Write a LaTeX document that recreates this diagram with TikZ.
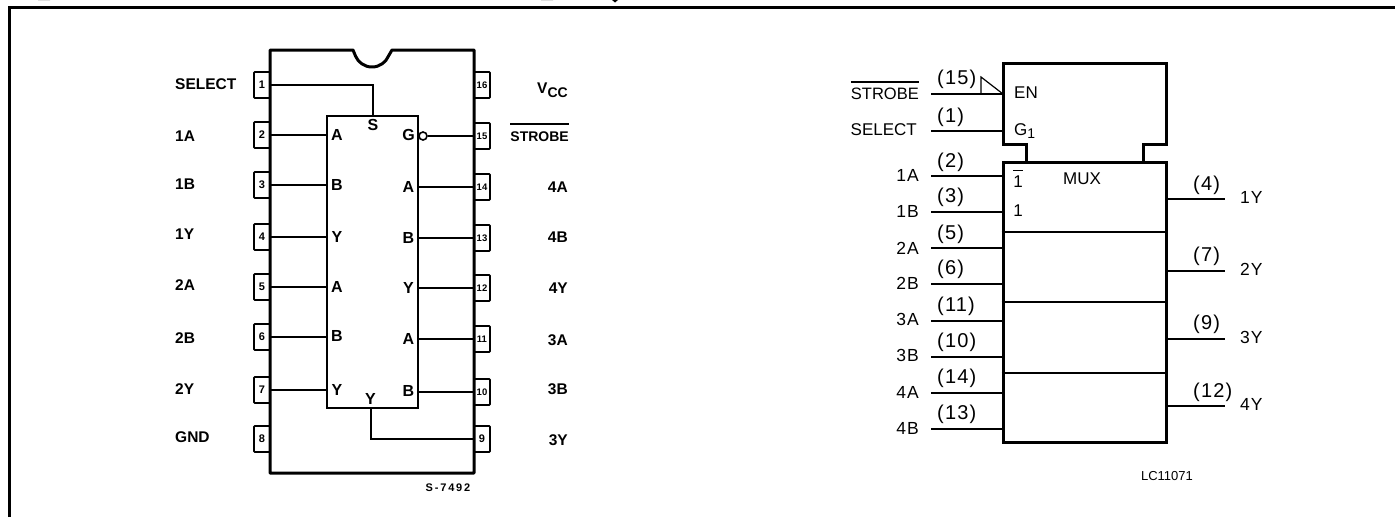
\documentclass[tikz,border=0pt]{standalone}
\usepackage{fontspec}
\setmainfont{Liberation Sans}
\newcommand{\fsz}[1]{\fontsize{#1}{#1}\selectfont}
\newcommand{\ovl}[2]{\setbox0=\hbox{#2}\rlap{\smash{\rule[#1]{\wd0}{1.3pt}}}\box0}
\newfontfamily\spaced[LetterSpace=6]{Liberation Sans}
\tikzset{
  x=1pt,y=-1pt,
  pinbox/.style={draw=black,line width=1.8pt,rounded corners=0.8pt,fill=white,minimum width=16pt,minimum height=26pt,inner sep=0pt,font=\bfseries\fsz{11}},
  wire/.style={line width=1.7pt,draw=black},
  thickline/.style={line width=3pt,draw=black,line join=miter},
  pinlabel/.style={inner sep=0pt,font=\bfseries\fsz{15.5}},
  ilabel/.style={inner sep=0pt,font=\bfseries\fsz{16}},
  sigtext/.style={inner sep=0pt,font=\fsz{17}},
  shorttext/.style={inner sep=0pt,font=\spaced\fsz{17.5}},
  numtext/.style={inner sep=0pt,anchor=west,font=\spaced\fsz{20}},
  note/.style={inner sep=0pt,font=\fsz{13}},
}
\begin{document}
\begin{tikzpicture}
\useasboundingbox (0,0) rectangle (1395,517);
% page frame (open to the right and below)
\coordinate (fa) at (9.5,517);
\coordinate (fb) at (9.5,7.5);
\coordinate (fc) at (1395,7.5);
\draw[thickline] (fa) -- (fb) -- (fc);
% clipped title descenders
\fill (38,0) arc[start angle=180,end angle=360,x radius=6,y radius=2.2] -- cycle;
\fill (541,0) arc[start angle=180,end angle=360,x radius=6,y radius=2.2] -- cycle;
\fill (612,0) -- (618,0) -- (615,2.5) -- cycle;

% ===== pin connections =====
\node[pinbox] (p1) at (262,85) {1};
\node[pinbox] (p2) at (262,135) {2};
\node[pinbox] (p3) at (262,185) {3};
\node[pinbox] (p4) at (262,237) {4};
\node[pinbox] (p5) at (262,287) {5};
\node[pinbox] (p6) at (262,337) {6};
\node[pinbox] (p7) at (262,390) {7};
\node[pinbox] (p8) at (262,439) {8};
\node[pinbox,font=\bfseries\fsz{9.5}] (p16) at (482,85) {16};
\node[pinbox,font=\bfseries\fsz{9.5}] (p15) at (482,136) {15};
\node[pinbox,font=\bfseries\fsz{9.5}] (p14) at (482,187) {14};
\node[pinbox,font=\bfseries\fsz{9.5}] (p13) at (482,238) {13};
\node[pinbox,font=\bfseries\fsz{9.5}] (p12) at (482,288) {12};
\node[pinbox,font=\bfseries\fsz{9.5}] (p11) at (482,339) {11};
\node[pinbox,font=\bfseries\fsz{9.5}] (p10) at (482,392) {10};
\node[pinbox] (p9) at (482,439) {9};
% package outline
\fill[white] (270,50) rectangle (474,473);
\draw[line width=3pt,line join=round] (270,50) -- (353,50) -- (355.5,56) .. controls (358,62) and (364,67) .. (372,67) .. controls (380,67) and (386,62) .. (388.5,56) -- (392,50) -- (474,50) -- (474,473) -- (270,473) -- cycle;
% inner block
\node[draw=black,line width=2pt,minimum width=91pt,minimum height=292pt,inner sep=0pt] (blk) at (372.5,262) {};
\coordinate (jsel) at (373,85);
\coordinate (jy) at (371,439);
\draw[wire] (270,85) -- (jsel) -- (jsel |- blk.north);
\draw[wire] (jy |- blk.south) -- (jy) -- (474,439);
\foreach \n in {2,3,4,5,6,7}{\draw[wire] (270,0 |- p\n) -- (blk.west |- p\n);}
\foreach \n in {14,13,12,11,10}{\draw[wire] (blk.east |- p\n) -- (474,0 |- p\n);}
\node[draw=black,fill=white,line width=1.6pt,circle,minimum size=8pt,inner sep=0pt] (bub) at (423,136) {};
\draw[wire] (bub.east) -- (474,0 |- bub);
% labels inside block
\node[ilabel] (ls) at (373,125) {S};
\node[ilabel] (ly) at (370.5,399) {Y};
\foreach \t/\y [count=\i] in {A/135,B/185,Y/237,A/287,B/336,Y/390}{\node[ilabel] (il\i) at (337,\y) {\t};}
\foreach \t/\y [count=\i] in {G/135,A/187,B/238,Y/288,A/339,B/391}{\node[ilabel] (ir\i) at (408.5,\y) {\t};}
% outer labels
\foreach \t/\y [count=\i] in {SELECT/84,1A/136,1B/184,1Y/234,2A/285,2B/338,2Y/389,GND/437}{\node[pinlabel,anchor=west] (ol\i) at (175,\y) {\t};}
\node[pinlabel,anchor=east] (vcc) at (568,90) {V\raisebox{-3.5pt}{\fsz{14}CC}};
\node[pinlabel,anchor=base east,font=\bfseries\fsz{14}] (stb) at (569,141) {\ovl{16.5pt}{STROBE}};
\foreach \t/\y [count=\i] in {4A/187,4B/237,4Y/288,3A/340,3B/389,3Y/440}{\node[pinlabel,anchor=east] (or\i) at (568,\y) {\t};}
\node[inner sep=0pt,font=\bfseries\fsz{11}] (ref1) at (448,488) {S\,-\,7\,4\,9\,2};

% ===== logic symbol =====
\node[thickline,draw,minimum width=163pt,minimum height=280pt,inner sep=0pt] (mux) at (1084.5,302) {};
\draw[thickline] (1026,0 |- mux.north) -- (1026,144) -- (1003,144) -- (1003,63) -- (1166,63) -- (1166,144) -- (1143,144) -- (1143,0 |- mux.north);
\foreach \y in {232,302,373}{\draw[wire] (mux.west |- 0,\y) -- (mux.east |- 0,\y);}
% inputs
\foreach \n/\y/\ly/\num/\ny in {1A/176/175/(2)/162,1B/212/211/(3)/197,2A/248/248/(5)/234,2B/284/283/(6)/269,3A/321/319/(11)/306,3B/357/355/(10)/342,4A/393/392/(14)/378,4B/429/428/(13)/414}{
  \coordinate (in\n) at (931,\y);
  \draw[wire] (in\n) -- (mux.west |- in\n);
  \node[shorttext,anchor=east] (tx\n) at (919,\ly) {\n};
  \node[numtext] (nm\n) at (937,\ny) {\num};
}
\coordinate (inSt) at (931,94);
\coordinate (inSe) at (931,131);
\coordinate (enp) at (1003,94);
\coordinate (gp) at (1003,131);
\draw[wire] (inSt) -- (enp);
\draw[wire] (inSe) -- (gp);
\coordinate (tri) at (981,77);
\draw[line width=1.2pt] (tri |- enp) -- (tri) -- (enp);
\node[sigtext,anchor=base east,font=\fsz{16.5}] (txSt) at (919,99) {\ovl{16.5pt}{STROBE}};
\node[sigtext,anchor=east] (txSe) at (917,130) {SELECT};
\node[numtext] (nmSt) at (937,79) {(15)};
\node[numtext] (nmSe) at (937,117) {(1)};
% outputs
\foreach \n/\y/\num/\ny in {1Y/199/(4)/185,2Y/271/(7)/256,3Y/339/(9)/324,4Y/406/(12)/392}{
  \coordinate (ou\n) at (1225,\y);
  \draw[wire] (mux.east |- ou\n) -- (ou\n);
  \node[shorttext,anchor=west] (tx\n) at (1240,\y-2) {\n};
  \node[numtext] (nm\n) at (1193,\ny) {\num};
}
% inside symbol text
\node[sigtext,anchor=west] (en) at (1014,93) {EN};
\node[sigtext,anchor=west] (g1) at (1014,131) {G\raisebox{-3pt}{\fsz{14}1}};
\node[sigtext,anchor=base] (one) at (1018,187) {\ovl{16pt}{1}};
\node[sigtext] (onb) at (1018,211) {1};
\node[sigtext] (mx) at (1082,179) {MUX};
\node[note] (ref2) at (1167,476) {LC11071};
\end{tikzpicture}
\end{document}
